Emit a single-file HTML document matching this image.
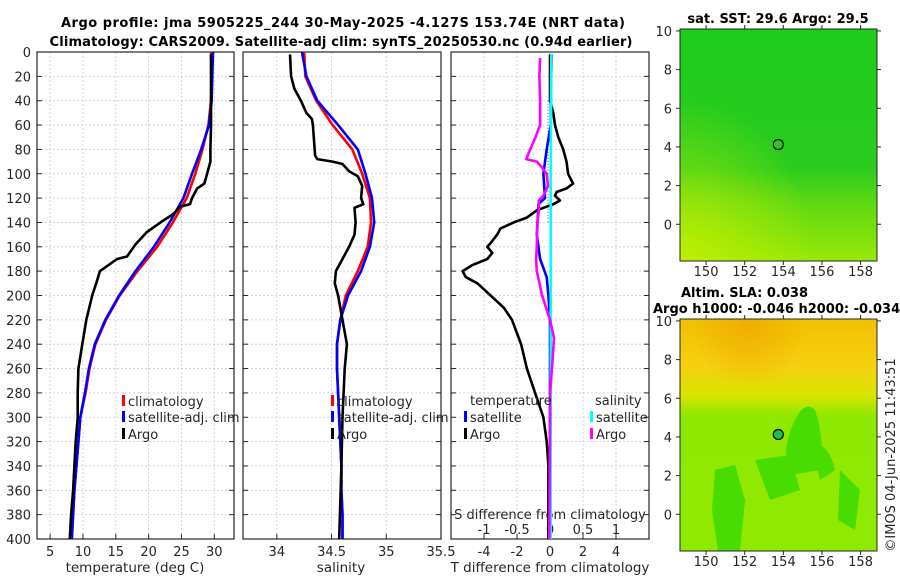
<!DOCTYPE html>
<html><head><meta charset="utf-8"><style>
html,body{margin:0;padding:0;background:#fff;}
svg{display:block;font-family:"DejaVu Sans","Liberation Sans",sans-serif;}
</style></head><body>
<svg id="fig" width="900" height="580" viewBox="0 0 900 580" xmlns="http://www.w3.org/2000/svg">
<defs>
<linearGradient id="sstGrad" x1="0" y1="0" x2="0" y2="1">
<stop offset="0" stop-color="#1ecc1c"/><stop offset="0.6" stop-color="#2acc1e"/><stop offset="0.75" stop-color="#5ed812"/><stop offset="1" stop-color="#98e808"/></linearGradient>
<linearGradient id="sstSide" x1="0" y1="0" x2="1" y2="0.6">
<stop offset="0.3" stop-color="#c8f000" stop-opacity="0"/><stop offset="0.55" stop-color="#c8f000" stop-opacity="0"/></linearGradient>
<radialGradient id="sstCorner" cx="0" cy="1" r="0.7"><stop offset="0" stop-color="#c8f000" stop-opacity="0.8"/><stop offset="1" stop-color="#c8f000" stop-opacity="0"/></radialGradient>
<linearGradient id="slaGrad" x1="0" y1="0" x2="0" y2="1">
<stop offset="0" stop-color="#f2c000"/><stop offset="0.2" stop-color="#f5d010"/><stop offset="0.33" stop-color="#d8e400"/><stop offset="0.42" stop-color="#8ee800"/><stop offset="1" stop-color="#90ea00"/></linearGradient>
<radialGradient id="slaHot" cx="0.35" cy="0.0" r="0.3"><stop offset="0" stop-color="#f0a800" stop-opacity="0.8"/><stop offset="1" stop-color="#f0a800" stop-opacity="0"/></radialGradient>
<clipPath id="clipSla"><rect x="680" y="319" width="197" height="232"/></clipPath>
<clipPath id="clipP1"><rect x="37" y="52" width="197" height="487"/></clipPath>
<clipPath id="clipP2"><rect x="243" y="52" width="198" height="487"/></clipPath>
<clipPath id="clipP3"><rect x="451" y="52" width="198" height="487"/></clipPath>
</defs>
<g id="root"></g>
</svg>
<script>
// ---------- data ----------
var depthTicks = [0,20,40,60,80,100,120,140,160,180,200,220,240,260,280,300,320,340,360,380,400];
var tempTicks = [5,10,15,20,25,30];
var salTicks = [34,34.5,35,35.5];
var salTickLabels = ['34','34.5','35','35.5'];
var tdiffTicks = [-4,-2,0,2,4];
var sdiffTicks = [-1,-0.5,0,0.5,1];
var sdiffTickLabels = ['-1','-0.5','0','0.5','1'];
var lonTicks = [150,152,154,156,158];
var latTicks = [0,2,4,6,8,10];

var climDepth = [0,20,40,60,80,100,120,140,160,180,200,220,240,260,280,300,320,340,360,380,400];
var climTemp  = [29.5,29.6,29.5,29.1,28.2,27.1,25.8,23.7,21.3,18.3,15.6,13.5,11.9,11.0,10.4,9.6,9.3,9.0,8.7,8.5,8.3];
var satTemp   = [29.8,29.7,29.6,29.2,28.0,26.6,25.3,23.2,20.8,18.0,15.5,13.4,11.8,10.9,10.3,9.6,9.3,9.0,8.7,8.5,8.3];
var argoTDepth = [2,60,80,90,100,108,112,120,125,127,133,140,148,158,168,170,180,192,200,220,240,260,280,300,320,340,360,380,400];
var argoTemp   = [29.5,29.5,29.4,29.4,28.9,28.5,27.4,26.6,26.3,24.8,23.8,21.8,19.7,18.0,16.7,15.2,12.6,11.9,11.4,10.5,9.9,9.3,9.2,9.2,8.9,8.7,8.5,8.2,8.0];

var climSal = [34.25,34.26,34.36,34.51,34.69,34.78,34.85,34.86,34.83,34.74,34.63,34.58,34.55,34.55,34.56,34.57,34.58,34.59,34.59,34.6,34.6];
var satSal  = [34.23,34.27,34.37,34.56,34.74,34.81,34.87,34.89,34.85,34.77,34.65,34.58,34.55,34.55,34.56,34.57,34.58,34.59,34.59,34.6,34.6];
var argoSDepth = [2,20,30,40,50,55,60,85,88,90,92,98,102,110,120,125,128,140,150,160,170,180,190,200,220,240,260,300,340,400];
var argoSal    = [34.12,34.13,34.16,34.22,34.27,34.32,34.33,34.35,34.37,34.51,34.6,34.66,34.74,34.78,34.77,34.79,34.71,34.72,34.71,34.66,34.6,34.54,34.53,34.56,34.6,34.64,34.62,34.6,34.59,34.57];

var tdiffArgoDepth = [2,40,50,60,70,80,90,100,108,112,115,118,122,125,130,136,140,145,150,157,160,165,170,175,180,185,190,200,210,220,240,260,280,300,320,340,400];
var tdiffArgo = [0,0,0.2,0.3,0.5,0.8,1.0,1.1,1.4,1.0,0.4,0.3,0.6,0.2,-0.8,-1.4,-2.2,-3.0,-3.2,-3.6,-3.8,-3.5,-3.8,-4.7,-5.3,-5.1,-4.4,-3.6,-2.8,-2.3,-1.75,-1.4,-0.9,-0.4,-0.2,-0.1,-0.1];
var tdiffSatDepth = [2,40,60,80,100,120,125,150,170,185,200,220,400];
var tdiffSat = [0.1,0.05,0.05,-0.2,-0.4,-0.3,-0.7,-0.8,-0.6,-0.2,-0.1,0,0];
var sdiffSatDepth = [2,100,200,300,400];
var sdiffSat = [0.02,0.01,0.01,0.01,0.01];
var sdiffArgoDepth = [5,20,40,60,70,80,88,90,95,100,110,118,122,130,140,160,170,180,200,220,235,260,280,300,400];
var sdiffArgo = [-0.15,-0.16,-0.15,-0.15,-0.22,-0.3,-0.36,-0.2,-0.12,-0.05,-0.03,-0.1,-0.17,-0.17,-0.19,-0.2,-0.21,-0.2,-0.12,0.0,0.06,0.03,0.0,0.0,-0.01];

var argoLon = [153.74];
var argoLat = [4.127];

// ---------- helpers ----------
var NS='http://www.w3.org/2000/svg';
var root=document.getElementById('root');
function mk(tag,attrs,parent){var e=document.createElementNS(NS,tag);for(var k in attrs)e.setAttribute(k,attrs[k]);(parent||root).appendChild(e);return e;}
function txt(s,x,y,size,anchor,weight,parent){var t=mk('text',{x:x,y:y,'font-size':size,'text-anchor':anchor||'middle','font-weight':weight||'normal',fill:'#262626'},parent);t.textContent=s;return t;}
var yTop=52,yBot=539;
function yD(d){return yTop+d*(yBot-yTop)/400;}
function lin(d0,d1,r0,r1){return function(v){return r0+(v-d0)*(r1-r0)/(d1-d0);};}
var xT=lin(3,33,37,234);
var xS=lin(33.690909,35.5,243,441);
var xTd=lin(-6,6,451,649);
var xSd=lin(-1.5,1.5,451,649);

function panel(x0,x1,name,ticks,xf,labels){
  var g=mk('g',{});
  
  
  ticks.forEach(function(t){var x=xf(t);var l=mk('line',{x1:x,x2:x,y1:yTop,y2:yBot,stroke:'#c6c6e6','stroke-width':0.8,'stroke-dasharray':'2,2'},g);});
  depthTicks.forEach(function(d){var y=yD(d);mk('line',{x1:x0,x2:x1,y1:y,y2:y,stroke:'#c6c6e6','stroke-width':0.8,'stroke-dasharray':'2,2'},g);
    mk('line',{x1:x0,x2:x0+5,y1:y,y2:y,stroke:'#262626','stroke-width':1},g);mk('line',{x1:x1-5,x2:x1,y1:y,y2:y,stroke:'#262626','stroke-width':1},g);});
  mk('rect',{x:x0,y:yTop,width:x1-x0,height:yBot-yTop,fill:'none',stroke:'#262626','stroke-width':1.2},g);
  ticks.forEach(function(t,i){var x=xf(t);mk('line',{x1:x,x2:x,y1:yBot,y2:yBot-5,stroke:'#262626'},g);
    var lab=txt(labels?labels[i]:String(t),x,556,13,'middle','normal',g);});
  return g;
}
function series(depths,vals,xf,color,name,clip,w){
  var pts=depths.map(function(d,i){return xf(vals[i]).toFixed(1)+','+yD(d).toFixed(1);}).join(' ');
  var p=mk('polyline',{points:pts,fill:'none',stroke:color,'stroke-width':w||2.6,'stroke-linejoin':'round','clip-path':'url(#'+clip+')'});
  
  
  return p;
}
function legendRow(x,y,color,label,parent){
  mk('rect',{x:x,y:y-6,width:3,height:11,fill:color},parent);
  txt(label,x+6,y+5,13,'start','normal',parent);
}

// ---------- titles ----------
var t1=txt('Argo profile: jma 5905225_244 30-May-2025 -4.127S 153.74E (NRT data)',343,27,13,'middle','bold');

t1.setAttribute('textLength','564');t1.setAttribute('fill','#000');
var t2=txt('Climatology: CARS2009. Satellite-adj clim: synTS_20250530.nc (0.94d earlier)',341,46,13,'middle','bold');

t2.setAttribute('textLength','583');t2.setAttribute('fill','#000');

// ---------- panel 1 temperature ----------
var p1=panel(37,234,'temperature-panel',tempTicks,xT);
depthTicks.forEach(function(d){var l=txt(String(d),31,yD(d)+5,13,'end','normal',p1);});
var xl1=txt('temperature (deg C)',135,572,13.5,'middle');

series(climDepth,climTemp,xT,'#ff0000','temperature-climatology-line','clipP1');
series(climDepth,satTemp,xT,'#0000ff','temperature-satellite-line','clipP1');
series(argoTDepth,argoTemp,xT,'#000000','temperature-argo-line','clipP1');
var lg1=mk('g',{});
legendRow(122,401,'#ff0000','climatology',lg1);legendRow(122,417,'#0000ff','satellite-adj. clim',lg1);legendRow(122,434,'#000000','Argo',lg1);

// ---------- panel 2 salinity ----------
var p2=panel(243,441,'salinity-panel',salTicks,xS,salTickLabels);
var xl2=txt('salinity',341,572,13.5,'middle');

series(climDepth,climSal,xS,'#ff0000','salinity-climatology-line','clipP2');
series(climDepth,satSal,xS,'#0000ff','salinity-satellite-line','clipP2');
series(argoSDepth,argoSal,xS,'#000000','salinity-argo-line','clipP2');
var lg2=mk('g',{});
legendRow(331,401,'#ff0000','climatology',lg2);legendRow(331,417,'#0000ff','satellite-adj. clim',lg2);legendRow(331,434,'#000000','Argo',lg2);

// ---------- panel 3 differences ----------
var p3=panel(451,649,'difference-panel',tdiffTicks,xTd);
var xl3=txt('T difference from climatology',550,572,13.5,'middle');

var sdl=txt('S difference from climatology',550,519,13,'middle');

sdiffTicks.forEach(function(t,i){var x=xSd(t);mk('line',{x1:x,x2:x,y1:yBot,y2:yBot-5,stroke:'#262626'});
  var l=txt(sdiffTickLabels[i],x,534,13,'middle');});
mk('line',{x1:548,x2:548,y1:yD(40),y2:yD(140),stroke:'#555','stroke-width':1,'stroke-dasharray':'1,2'});
series(tdiffArgoDepth,tdiffArgo,xTd,'#000000','t-difference-argo-line','clipP3');
series(tdiffSatDepth,tdiffSat,xTd,'#0000ff','t-difference-satellite-line','clipP3');
series(sdiffSatDepth,sdiffSat,xSd,'#00ffff','s-difference-satellite-line','clipP3');
series(sdiffArgoDepth,sdiffArgo,xSd,'#ff00ff','s-difference-argo-line','clipP3');
var lg3=mk('g',{});
txt('temperature',470,405,13,'start','normal',lg3);txt('salinity',595,405,13,'start','normal',lg3);
legendRow(464,417,'#0000ff','satellite',lg3);legendRow(464,434,'#000000','Argo',lg3);
legendRow(590,417,'#00ffff','satellite',lg3);legendRow(590,434,'#ff00ff','Argo',lg3);

// ---------- maps ----------
var mx0=680,mx1=877;
var xLon=lin(148.65,158.85,mx0,mx1);
function mapAxes(g,y0,y1,latTop,latBot){
  var yLat=lin(latTop,latBot,y0,y1);
  mk('rect',{x:mx0,y:y0,width:mx1-mx0,height:y1-y0,fill:'none',stroke:'#262626','stroke-width':1},g);
  latTicks.forEach(function(v){var y=yLat(v);mk('line',{x1:mx0-4,x2:mx0,y1:y,y2:y,stroke:'#262626'},g);mk('line',{x1:mx1,x2:mx1+4,y1:y,y2:y,stroke:'#262626'},g);
    txt(String(v),672,y+5,13,'end','normal',g);});
  lonTicks.forEach(function(v){var x=xLon(v);mk('line',{x1:x,x2:x,y1:y1,y2:y1+4,stroke:'#262626'},g);mk('line',{x1:x,x2:x,y1:y0-4,y2:y0,stroke:'#262626'},g);
    txt(String(v),x,y1+15,13,'middle','normal',g);});
  return yLat;
}
// SST map
var m1=mk('g',{});
mk('rect',{x:mx0,y:29,width:mx1-mx0,height:232,fill:'url(#sstGrad)'},m1);
mk('rect',{x:mx0,y:29,width:mx1-mx0,height:232,fill:'url(#sstCorner)'},m1);
var yLat1=mapAxes(m1,29,261,10.1,-1.9);
var c1=mk('circle',{cx:xLon(argoLon[0]),cy:yLat1(argoLat[0]),r:5,fill:'none',stroke:'#000','stroke-width':1.2},m1);

var st1=txt('sat. SST: 29.6 Argo: 29.5',778,23,13,'middle','bold');st1.setAttribute('fill','#000');

// SLA map
var m2=mk('g',{});
mk('rect',{x:mx0,y:319,width:mx1-mx0,height:232,fill:'url(#slaGrad)'},m2);
mk('rect',{x:mx0,y:319,width:mx1-mx0,height:232,fill:'url(#slaHot)'},m2);
var gp=mk('g',{'clip-path':'url(#clipSla)',fill:'#48dc00'},m2);
mk('path',{d:'M795 420 Q805 400 815 410 Q825 440 820 470 L790 475 Q780 450 795 420Z'},gp);
mk('path',{d:'M715 470 L735 465 L745 500 L740 551 L718 551 L712 510Z'},gp);
mk('path',{d:'M810 440 Q830 445 835 470 L820 480 Z'},gp);
mk('path',{d:'M840 470 L860 490 L855 530 L838 520Z'},gp);
mk('path',{d:'M755 460 L790 455 L800 490 L770 500 Z'},gp);
var yLat2=mapAxes(m2,319,551,10.1,-1.9);
var c2=mk('circle',{cx:xLon(argoLon[0]),cy:yLat2(argoLat[0]),r:5,fill:'#20c040',stroke:'#000','stroke-width':1.2},m2);

var st2=txt('Altim. SLA: 0.038',681,297,13,'start','bold');st2.setAttribute('fill','#000');

var st3=txt('Argo h1000: -0.046 h2000: -0.034',653,313,13,'start','bold');st3.setAttribute('fill','#000');

var cp=txt('\u00a9IMOS 04-Jun-2025 11:43:51',0,0,13,'middle');
cp.setAttribute('transform','translate(895,455) rotate(-90)');

</script>
</body></html>
